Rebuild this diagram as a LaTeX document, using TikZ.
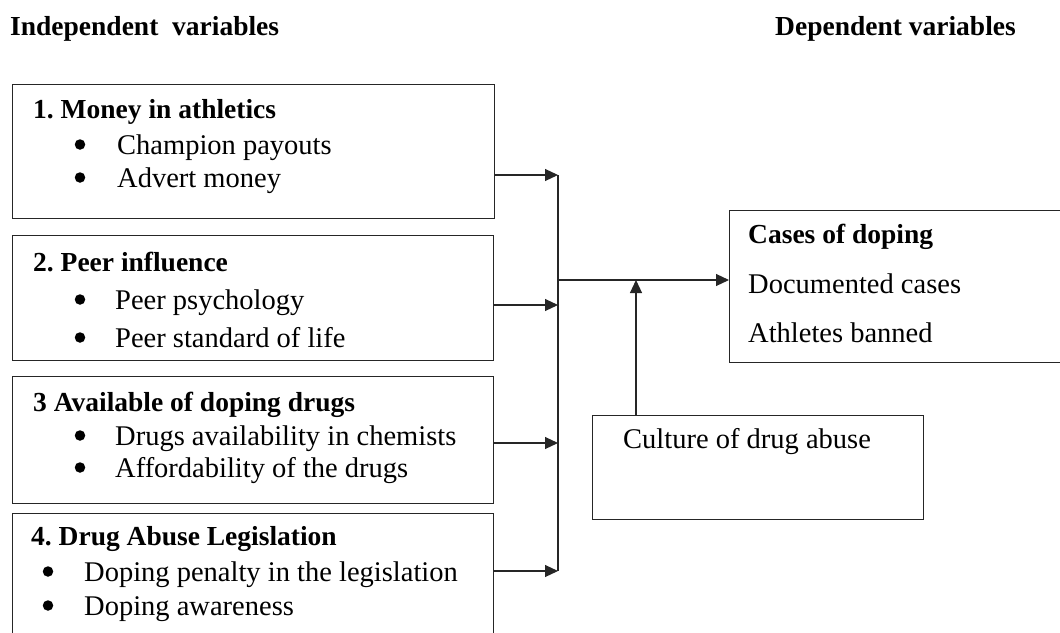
\documentclass[tikz,border=0pt]{standalone}
\usepackage{fontspec}
\setmainfont{Liberation Serif}
\frenchspacing
\usetikzlibrary{positioning}
\usetikzlibrary{arrows.meta}
\tikzset{
  box/.style={draw=black!85,line width=1.1pt,anchor=north west,inner sep=0pt},
  head/.style={anchor=base west,inner sep=0pt,font=\fontsize{27.5}{33}\selectfont\bfseries},
  item/.style={anchor=base west,inner sep=0pt,font=\fontsize{28.5}{34}\selectfont},
  dot/.style={circle,fill=black,inner sep=0pt,minimum size=10.5pt,yshift=9.5pt},
  wire/.style={draw=black!85,line width=1.1pt},
  flow/.style={wire,-{Triangle[length=13pt,width=12pt]}}
}

\begin{document}
\begin{tikzpicture}[x=1pt,y=-1pt]
            \clip (0,0) rectangle (1060,632);
            % titles
            \node[head] (indep) at (10,35) {Independent\ \ variables};
            \node[head] (dep) at (775,35) {Dependent variables};
            % boxes
            \node[box,minimum width=482,minimum height=134] (money) at (12,84) {};
            \node[box,minimum width=481,minimum height=125] (peer) at (12,235) {};
            \node[box,minimum width=481,minimum height=127] (avail) at (12,376) {};
            \node[box,minimum width=481,minimum height=147] (legis) at (12,513) {};
            \node[box,minimum width=346,minimum height=152] (cases) at (729,210) {};
            \node[box,minimum width=331,minimum height=104] (culture) at (592,415) {};
            % box 1
            \node[head] (moneyhead) at (33,118) {1. Money in athletics};
            \node[dot] (moneyb1) at (80,154) {};
            \node[item] (moneyi1) at (117,154) {Champion payouts};
            \node[dot] (moneyb2) at (80,187) {};
            \node[item] (moneyi2) at (117,187) {Advert money};
            % box 2
            \node[head] (peerhead) at (33,271) {2. Peer influence};
            \node[dot] (peerb1) at (80,309) {};
            \node[item] (peeri1) at (115,309) {Peer psychology};
            \node[dot] (peerb2) at (80,347) {};
            \node[item] (peeri2) at (115,347) {Peer standard of life};
            % box 3
            \node[head] (availhead) at (33,411) {3 Available of doping\ drugs};
            \node[dot] (availb1) at (80,445) {};
            \node[item] (availi1) at (115,445) {Drugs availability in chemists};
            \node[dot] (availb2) at (80,477) {};
            \node[item] (availi2) at (115,477) {Affordability of the drugs};
            % box 4
            \node[head] (legishead) at (31,545) {4. Drug Abuse Legislation};
            \node[dot] (legisb1) at (48,581) {};
            \node[item] (legisi1) at (84,581) {Doping penalty in the legislation};
            \node[dot] (legisb2) at (48,615) {};
            \node[item] (legisi2) at (84,615) {Doping awareness};
            % outcome and moderator
            \node[head] (caseshead) at (748,243) {Cases of doping};
            \node[item] (casesi1) at (748,293) {Documented cases};
            \node[item] (casesi2) at (748,342) {Athletes banned};
            \node[item] (culturetext) at (623,448) {Culture of drug abuse};
            % joints
            \coordinate (j1) at (558,175);
            \coordinate (j2) at (558,305);
            \coordinate (j3) at (558,443);
            \coordinate (j4) at (558,571);
            \coordinate (jm) at (558,280);
            \coordinate (jc) at (636,280);
            % connectors
            \draw[wire] (j1) -- (j4);
            \draw[flow] (money.east |- j1) -- (j1);
            \draw[flow] (peer.east |- j2) -- (j2);
            \draw[flow] (avail.east |- j3) -- (j3);
            \draw[flow] (legis.east |- j4) -- (j4);
            \draw[flow] (jm) -- (cases.west |- jm);
            \draw[flow] (culture.north -| jc) -- (jc);
\end{tikzpicture}
\end{document}
